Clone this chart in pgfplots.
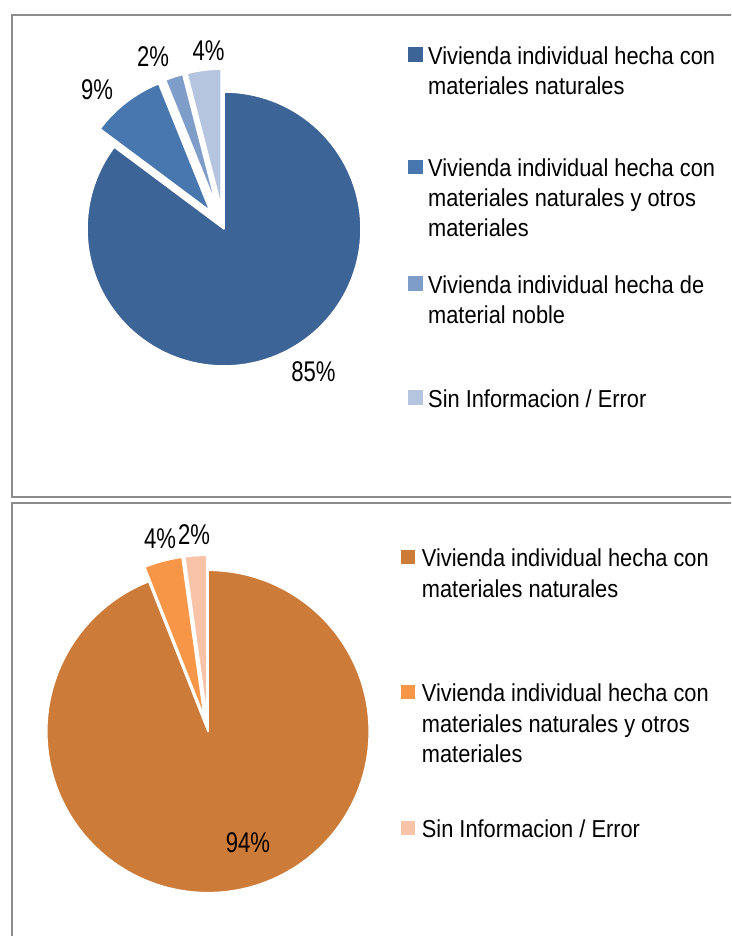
\documentclass[border=0pt]{standalone}
\usepackage{pgfplots}
\pgfplotsset{compat=1.18}
\usepackage{fontspec}
\setmainfont{Liberation Sans}
\newfontfamily\legfont{Liberation Sans}[FakeStretch=0.89]
\newfontfamily\labfont{Liberation Sans}[FakeStretch=0.775]
\definecolor{tA}{HTML}{3D6496}
\definecolor{tB}{HTML}{4877B0}
\definecolor{tC}{HTML}{7F9DC9}
\definecolor{tD}{HTML}{B5C4DF}
\definecolor{bA}{HTML}{CD7B38}
\definecolor{bB}{HTML}{F79646}
\definecolor{bC}{HTML}{F9C3A8}
\definecolor{frame}{HTML}{8C8C8C}
% pie slice: #1 percent, #2 colour, #3 explode offset, #4 radius
\newcommand\pieslice[4]{%
  \pgfmathsetmacro\sa{90-3.6*\cum}%
  \pgfmathsetmacro\sb{90-3.6*(\cum+#1)}%
  \pgfmathsetmacro\sm{(\sa+\sb)/2}%
  \pgfmathsetmacro\ox{#3*cos(\sm)}%
  \pgfmathsetmacro\oy{#3*sin(\sm)}%
  \edef\tmp{\noexpand\addplot[fill=#2, draw=white, line width=1.5pt, line join=round, domain=\sb:\sa, samples=120] ({\ox+#4*cos(x)},{\oy+#4*sin(x)}) -- (axis cs:\ox,\oy) -- cycle;}\tmp
  \pgfmathsetmacro\cum{\cum+#1}\global\let\cum\cum
}
\begin{document}
\begin{tikzpicture}[x=1pt,y=1pt]
\useasboundingbox (0,0) rectangle (731,936);
\clip (0,0) rectangle (731,936);
\fill[white] (0,0) rectangle (731,936);
% frames
\draw[frame, line width=2pt] (740,936-15) -- (12,936-15) -- (12,936-496.7) -- (740,936-496.7);
\draw[frame, line width=2pt] (740,936-502.7) -- (12,936-502.7) -- (12,-10);

% ---------- top pie ----------
\begin{axis}[hide axis, x=1pt, y=1pt, xmin=-200, xmax=200, ymin=-200, ymax=200,
  anchor=origin, at={(224pt,707pt)}, clip=false]
\gdef\cum{0}
\pieslice{85.2}{tA}{0}{137}
\pieslice{8.7}{tB}{23}{137}
\pieslice{2.1}{tC}{23}{137}
\pieslice{4.0}{tD}{23}{137}
\node[font=\labfont\fontsize{28.5}{30}\selectfont] at (axis cs:-127,139.5) {9\%};
\node[font=\labfont\fontsize{28.5}{30}\selectfont] at (axis cs:-71,172.5) {2\%};
\node[font=\labfont\fontsize{28.5}{30}\selectfont] at (axis cs:-15.5,178.5) {4\%};
\node[font=\labfont\fontsize{28.5}{30}\selectfont] at (axis cs:89.5,-142.5) {85\%};
\end{axis}

% ---------- bottom pie ----------
\begin{axis}[hide axis, x=1pt, y=1pt, xmin=-200, xmax=200, ymin=-200, ymax=200,
  anchor=origin, at={(208pt,204.5pt)}, clip=false]
\gdef\cum{0}
\pieslice{94.0}{bA}{0}{161.2}
\pieslice{3.8}{bB}{15}{161.2}
\pieslice{2.2}{bC}{15}{161.2}
\node[font=\labfont\fontsize{28.5}{30}\selectfont] at (axis cs:-48,192.5) {4\%};
\node[font=\labfont\fontsize{28.5}{30}\selectfont] at (axis cs:-14,196.5) {2\%};
\node[font=\labfont\fontsize{28.5}{30}\selectfont] at (axis cs:40,-111.5) {94\%};
\end{axis}

% ---------- legends ----------
\tikzset{leg/.style={anchor=base west, inner sep=0pt, font=\legfont\fontsize{24.5}{30}\selectfont}}
% top
\fill[tA] (408,936-64.5+2.5) rectangle +(14.5,14.5);
\node[leg] at (428,936-64.5) {Vivienda individual hecha con};
\node[leg] at (428,936-94.3) {materiales naturales};
\fill[tB] (408,936-176.7+2.5) rectangle +(14.5,14.5);
\node[leg] at (428,936-176.7) {Vivienda individual hecha con};
\node[leg] at (428,936-206.7) {materiales naturales y otros};
\node[leg] at (428,936-236.7) {materiales};
\fill[tC] (408,936-293.3+2.5) rectangle +(14.5,14.5);
\node[leg] at (428,936-293.3) {Vivienda individual hecha de};
\node[leg] at (428,936-323.3) {material noble};
\fill[tD] (408,936-407.3+2.5) rectangle +(14.5,14.5);
\node[leg] at (428,936-407.3) {Sin Informacion / Error};
% bottom
\fill[bA] (400.7,936-566.7+2.4) rectangle +(14.3,14.3);
\node[leg] at (421.7,936-566.7) {Vivienda individual hecha con};
\node[leg] at (421.7,936-597.3) {materiales naturales};
\fill[bB] (400.7,936-701.7+2.4) rectangle +(14.3,14.3);
\node[leg] at (421.7,936-701.7) {Vivienda individual hecha con};
\node[leg] at (421.7,936-732.3) {materiales naturales y otros};
\node[leg] at (421.7,936-762.8) {materiales};
\fill[bC] (400.7,936-837.3+2.4) rectangle +(14.3,14.3);
\node[leg] at (421.7,936-837.3) {Sin Informacion / Error};
\end{tikzpicture}
\end{document}
